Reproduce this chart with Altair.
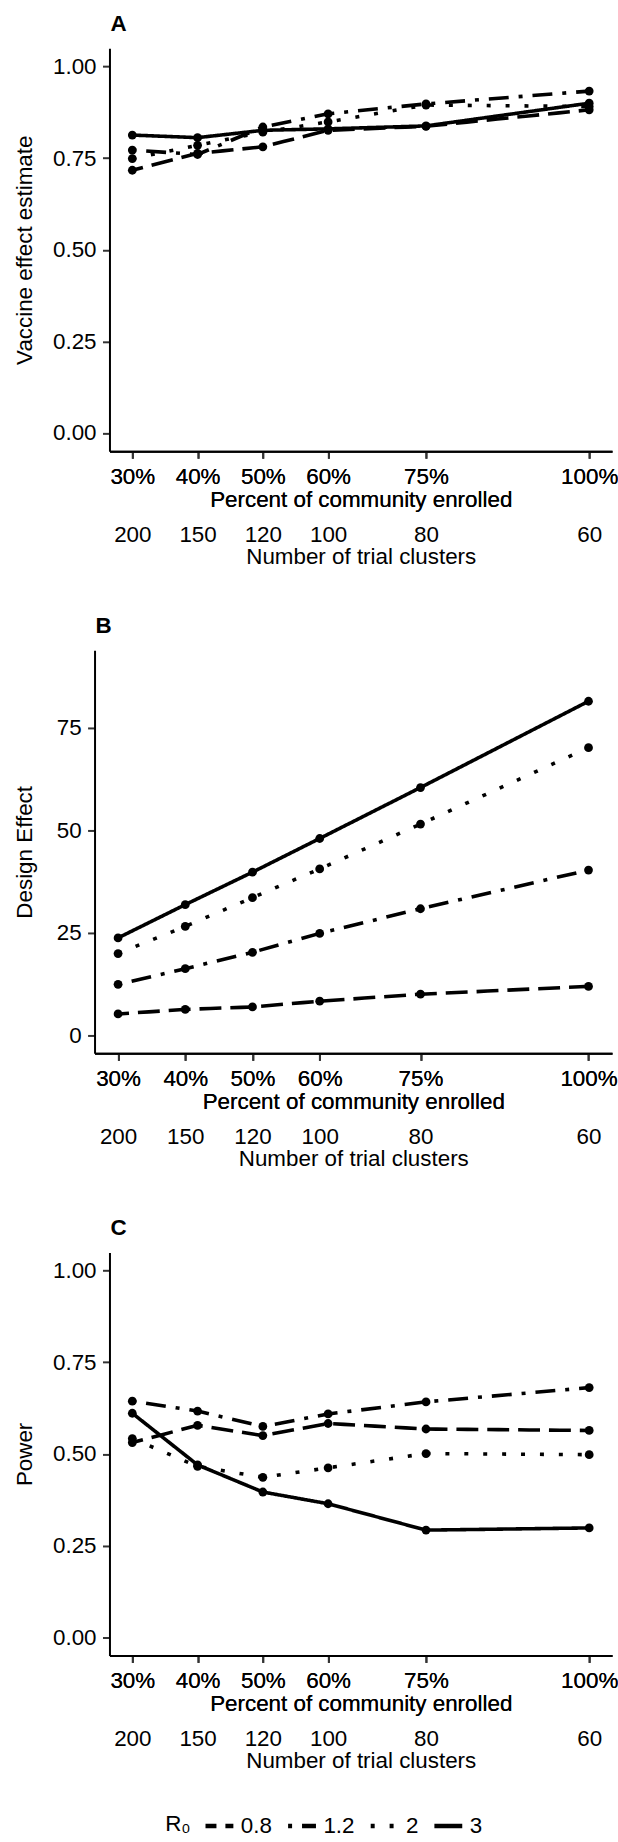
import altair as alt
import pandas as pd

# ---------------- data ----------------
pct = [30, 40, 50, 60, 75, 100]
clusters = [200, 150, 120, 100, 80, 60]
r0_labels = ["0.8", "1.2", "2", "3"]

# Panel A: vaccine effect estimate
ve_r08 = [0.717, 0.763, 0.781, 0.826, 0.837, 0.882]
ve_r12 = [0.772, 0.760, 0.835, 0.871, 0.898, 0.933]
ve_r2 = [0.749, 0.785, 0.821, 0.849, 0.895, 0.891]
ve_r3 = [0.813, 0.806, 0.826, 0.830, 0.838, 0.900]

# Panel B: design effect
de_r08 = [5.3, 6.4, 7.0, 8.4, 10.1, 12.0]
de_r12 = [12.5, 16.3, 20.3, 24.9, 30.9, 40.3]
de_r2 = [20.0, 26.6, 33.6, 40.6, 51.5, 70.1]
de_r3 = [23.8, 31.9, 39.8, 48.0, 60.4, 81.4]

# Panel C: power
pw_r08 = [0.531, 0.578, 0.550, 0.583, 0.568, 0.564]
pw_r12 = [0.644, 0.617, 0.575, 0.609, 0.642, 0.681]
pw_r2 = [0.542, 0.466, 0.436, 0.462, 0.501, 0.498]
pw_r3 = [0.611, 0.470, 0.396, 0.364, 0.292, 0.298]

# line types for R0 = 0.8, 1.2, 2, 3 (dashed, dot-dash, dotted, solid)
dash_styles = [[11, 9, 11, 0], [4, 10, 20, 10], [4, 15], [1, 0]]

FONT = "Liberation Sans"
FS = 22.5
W = 520
H = 405


def make_df(series):
    rows = []
    for lab, vals in zip(r0_labels, series):
        for p, v in zip(pct, vals):
            rows.append({"pct": p, "R0": lab, "value": v})
    return pd.DataFrame(rows)


cluster_expr = " : ".join(
    f"datum.value == {p} ? '{c}'" for p, c in zip(pct, clusters)
) + " : ''"


def panel(df, letter, ytitle, ydomain, yvalues, yfmt, left_pad, title_x, legend):
    xscale = alt.Scale(domain=[26.5, 103.5], range=[left_pad, W], nice=False, zero=False)
    yscale = alt.Scale(domain=ydomain, nice=False, zero=False)
    common_axis = dict(
        grid=False, labelFont=FONT, titleFont=FONT, labelFontSize=FS,
        titleFontSize=FS, titleFontWeight="normal", labelColor="black",
        titleColor="black", labelFlush=False, labelOverlap=False,
    )
    x_axis1 = alt.Axis(
        values=pct, labelExpr="datum.value + '%'",
        title="Percent of community enrolled", orient="bottom",
        tickSize=7, tickWidth=2, tickColor="#333333", labelPadding=7,
        domainWidth=2, domainColor="black", titleY=37, **common_axis,
    )
    x_axis2 = alt.Axis(
        values=pct, labelExpr=cluster_expr, title="Number of trial clusters",
        orient="bottom", offset=59, domain=False, ticks=False, tickSize=0,
        labelPadding=14, titleY=36, **common_axis,
    )
    y_axis = alt.Axis(
        values=yvalues, format=yfmt, title=ytitle, offset=-left_pad,
        tickSize=7, tickWidth=2, tickColor="#333333", labelPadding=6.5,
        domainWidth=2, domainColor="black", titleX=title_x, **common_axis,
    )
    dash = alt.StrokeDash(
        "R0:N",
        scale=alt.Scale(domain=r0_labels, range=dash_styles),
        legend=legend,
    )
    base = alt.Chart(df)
    lines = base.mark_line(color="black", strokeWidth=3.6, strokeCap="butt").encode(
        x=alt.X("pct:Q", scale=xscale, axis=x_axis1),
        y=alt.Y("value:Q", scale=yscale, axis=y_axis),
        strokeDash=dash,
        detail="R0:N",
    )
    pts = base.mark_circle(color="black", size=78, opacity=1).encode(
        x=alt.X("pct:Q", scale=xscale, axis=x_axis1),
        y=alt.Y("value:Q", scale=yscale, axis=y_axis),
    )
    axis2 = base.mark_point(opacity=0).encode(
        x=alt.X("pct:Q", scale=xscale, axis=x_axis2),
    )
    return alt.layer(lines, pts, axis2).resolve_axis(x="independent").properties(
        width=W, height=H,
        title=alt.TitleParams(
            letter, anchor="start", frame="group", fontSize=FS, fontWeight="bold",
            font=FONT, color="black", dx=left_pad + 1, offset=13,
        ),
    )


legend_c = alt.Legend(
    title="R₀", orient="none", legendX=71, legendY=560, direction="horizontal",
    titleOrient="left", titleFontSize=FS, titleFontWeight="normal", titleFont=FONT,
    titleColor="black", titlePadding=12, labelFont=FONT, labelFontSize=FS,
    labelColor="black", symbolType="stroke", symbolSize=784,
    symbolStrokeWidth=4.5, symbolStrokeColor="black", labelOffset=5,
    columnPadding=6,
)

pa = panel(make_df([ve_r08, ve_r12, ve_r2, ve_r3]), "A", "Vaccine effect estimate",
           [-0.05, 1.05], [0, 0.25, 0.5, 0.75, 1.0], ".2f", 15, -73, None)
pb = panel(make_df([de_r08, de_r12, de_r2, de_r3]), "B", "Design Effect",
           [-4.3, 93.8], [0, 25, 50, 75], "d", 0, -58.5, None)
pc = panel(make_df([pw_r08, pw_r12, pw_r2, pw_r3]), "C", "Power",
           [-0.05, 1.05], [0, 0.25, 0.5, 0.75, 1.0], ".2f", 15, -73, legend_c)

chart = alt.vconcat(pa, pb, pc, spacing=46).resolve_scale(
    strokeDash="independent"
).properties(
    padding={"left": 13, "top": 8, "right": 0, "bottom": 0},
).configure(font=FONT, background="white").configure_view(stroke=None)

chart.save("out.html", embed_options={"renderer": "svg", "actions": False})
